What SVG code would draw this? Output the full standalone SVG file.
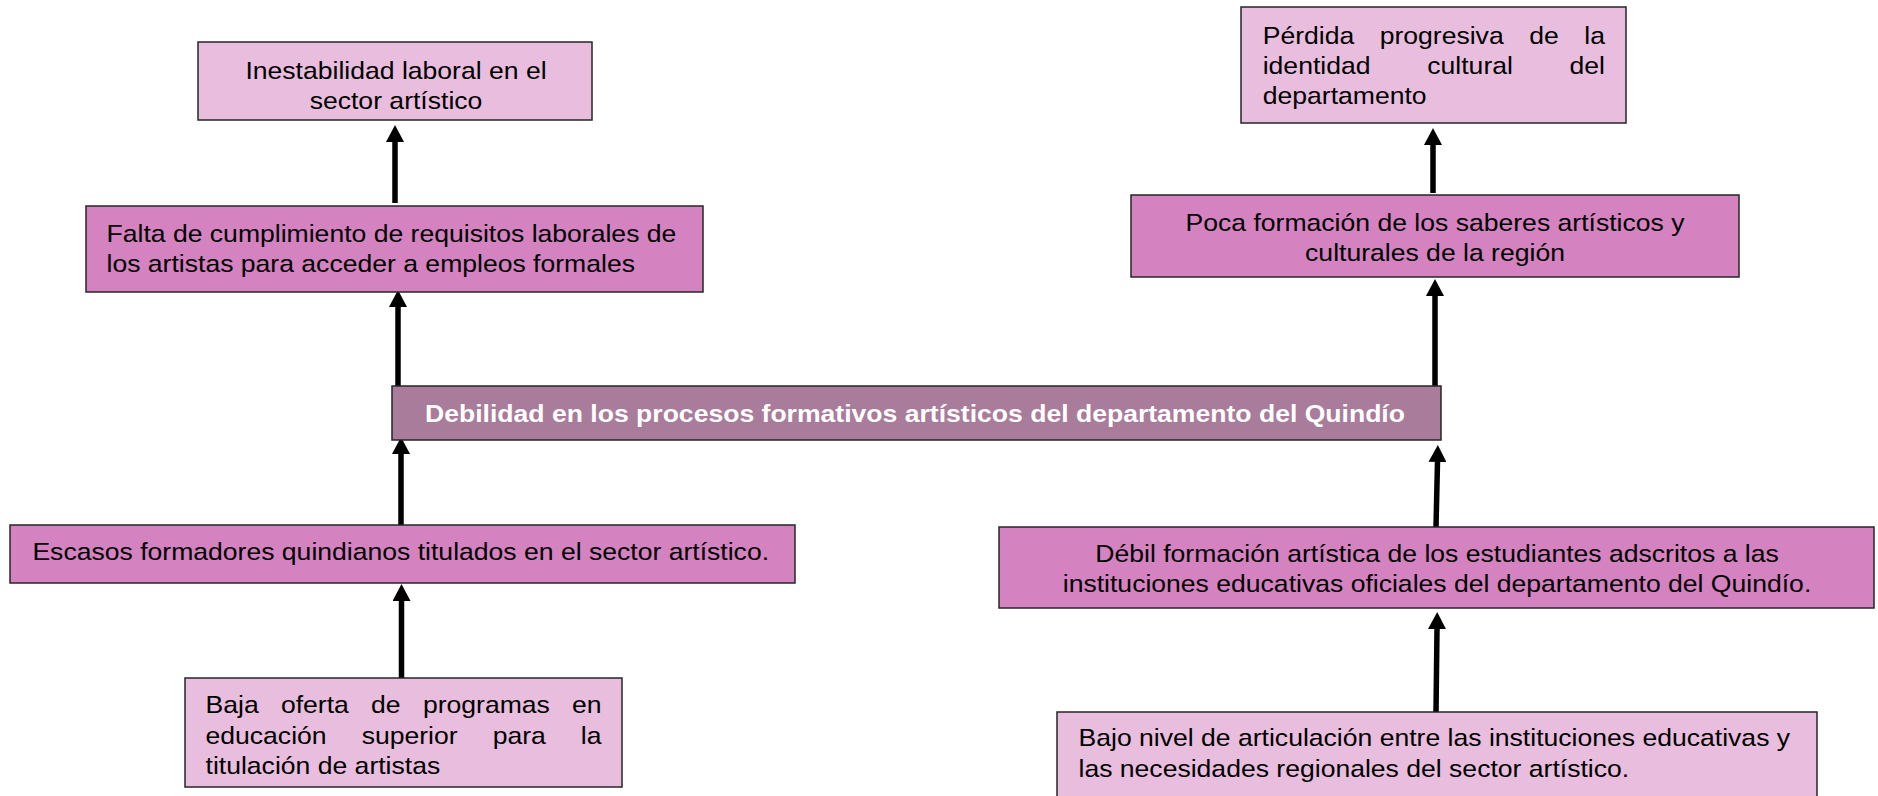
<svg xmlns="http://www.w3.org/2000/svg" width="1878" height="796" viewBox="0 0 1878 796">
<defs>
<style>
.box{stroke:#262626;stroke-width:1.5}
.light{fill:#E9BDDD}
.mid{fill:#D582C0}
.core{fill:#A87C9A}
.t{font-family:"Liberation Sans",Arial,sans-serif;font-size:24.6px;fill:#000}
.b{font-family:"Liberation Sans",Arial,sans-serif;font-size:24.6px;font-weight:bold;fill:#fff}
.m{text-anchor:middle}
.e{text-anchor:end}
.arrow{stroke:#000;stroke-width:5.5;fill:none;marker-end:url(#ah)}
</style>
<marker id="ah" markerUnits="userSpaceOnUse" markerWidth="18" markerHeight="18" viewBox="0 0 18 18" refX="0" refY="9" orient="auto">
<path d="M0,0 L17,9 L0,18 Z" fill="#000"/>
</marker>
</defs>
<rect width="1878" height="796" fill="#fff"/>

<g id="connectors">
<line class="arrow" x1="395" y1="203" x2="395" y2="142"/>
<line class="arrow" x1="398" y1="387" x2="398" y2="307"/>
<line class="arrow" x1="401" y1="525" x2="401" y2="454"/>
<line class="arrow" x1="401.5" y1="678" x2="401.5" y2="601"/>
<line class="arrow" x1="1433" y1="193" x2="1433" y2="145"/>
<line class="arrow" x1="1435" y1="386" x2="1435" y2="296"/>
<line class="arrow" x1="1436" y1="527" x2="1437.5" y2="462"/>
<line class="arrow" x1="1436" y1="712" x2="1437" y2="629"/>
</g>

<g id="node-inestabilidad">
<rect class="box light" x="198" y="42" width="394" height="78"/>
<g transform="translate(396,0) scale(1.08,1)">
<text class="t m" x="0" y="79">Inestabilidad laboral en el</text>
<text class="t m" x="0" y="109">sector artístico</text>
</g>
</g>

<g id="node-falta">
<rect class="box mid" x="86" y="206" width="617" height="86"/>
<g transform="translate(106.5,0) scale(1.08,1)">
<text class="t" x="0" y="242">Falta de cumplimiento de requisitos laborales de</text>
<text class="t" x="0" y="272">los artistas para acceder a empleos formales</text>
</g>
</g>

<g id="node-central">
<rect class="box core" x="392" y="386" width="1049" height="54"/>
<g transform="translate(915,0) scale(1.08,1)">
<text class="b m" x="0" y="422">Debilidad en los procesos formativos artísticos del departamento del Quindío</text>
</g>
</g>

<g id="node-perdida">
<rect class="box light" x="1241" y="7" width="385" height="116"/>
<g transform="translate(1262.7,0) scale(1.08,1)">
<text class="t" x="0" y="44">Pérdida</text>
<text class="t" x="108.3" y="44">progresiva</text>
<text class="t" x="246.8" y="44">de</text>
<text class="t e" x="316.9" y="44">la</text>
<text class="t" x="0" y="74">identidad</text>
<text class="t" x="152.4" y="74">cultural</text>
<text class="t e" x="316.9" y="74">del</text>
<text class="t" x="0" y="104">departamento</text>
</g>
</g>

<g id="node-poca">
<rect class="box mid" x="1131" y="195" width="608" height="82"/>
<g transform="translate(1435,0) scale(1.08,1)">
<text class="t m" x="0" y="231">Poca formación de los saberes artísticos y</text>
<text class="t m" x="0" y="261">culturales de la región</text>
</g>
</g>

<g id="node-escasos">
<rect class="box mid" x="10" y="525" width="785" height="58"/>
<g transform="translate(32.4,0) scale(1.08,1)">
<text class="t" x="0" y="560">Escasos formadores quindianos titulados en el sector artístico.</text>
</g>
</g>

<g id="node-baja">
<rect class="box light" x="185" y="678" width="437" height="109"/>
<g transform="translate(205.5,0) scale(1.08,1)">
<text class="t" x="0" y="713.5">Baja</text>
<text class="t" x="69.8" y="713.5">oferta</text>
<text class="t" x="153.3" y="713.5">de</text>
<text class="t" x="201.3" y="713.5">programas</text>
<text class="t e" x="366.7" y="713.5">en</text>
<text class="t" x="0" y="744">educación</text>
<text class="t" x="144.6" y="744">superior</text>
<text class="t" x="265.9" y="744">para</text>
<text class="t e" x="366.7" y="744">la</text>
<text class="t" x="0" y="774">titulación de artistas</text>
</g>
</g>

<g id="node-debil">
<rect class="box mid" x="999" y="527" width="875" height="81"/>
<g transform="translate(1437,0) scale(1.08,1)">
<text class="t m" x="0" y="562">Débil formación artística de los estudiantes adscritos a las</text>
<text class="t m" x="0" y="592">instituciones educativas oficiales del departamento del Quindío.</text>
</g>
</g>

<g id="node-bajo">
<rect class="box light" x="1057" y="712" width="760" height="100"/>
<g transform="translate(1078.5,0) scale(1.08,1)">
<text class="t" x="0" y="746">Bajo nivel de articulación entre las instituciones educativas y</text>
<text class="t" x="0" y="777">las necesidades regionales del sector artístico.</text>
</g>
</g>
</svg>
